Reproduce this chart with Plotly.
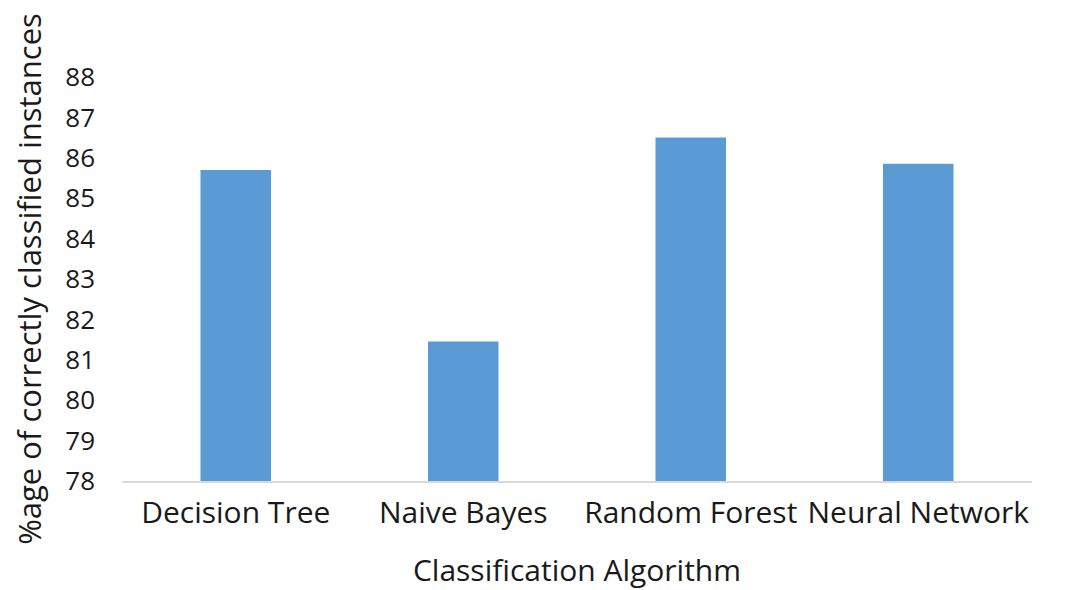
import plotly.graph_objects as go

categories = ["Decision Tree", "Naive Bayes", "Random Forest", "Neural Network"]
accuracy = [85.7, 81.45, 86.5, 85.85]
y_ticks = list(range(78, 89))

fig = go.Figure(
    go.Bar(x=categories, y=accuracy, marker=dict(color="#5B9BD5", line=dict(width=0)))
)

font_family = "Open Sans, Lato, sans-serif"
txt = "#1a1a1a"

fig.update_layout(
    width=1059,
    height=582,
    margin=dict(l=114, r=35, t=69, b=109, autoexpand=False),
    plot_bgcolor="white",
    paper_bgcolor="white",
    bargap=0.69,
    showlegend=False,
    font=dict(family=font_family, color=txt),
)
fig.update_xaxes(
    showline=True,
    linecolor="#D9D9D9",
    linewidth=1.5,
    showgrid=False,
    ticks="",
    ticklabelstandoff=4,
    tickfont=dict(size=30, color=txt),
    title=dict(text="Classification Algorithm", font=dict(size=30, color=txt), standoff=30),
)
fig.update_yaxes(
    range=[78, 88],
    tickvals=y_ticks,
    showgrid=False,
    showline=False,
    zeroline=False,
    ticks="",
    ticklabelstandoff=26,
    tickfont=dict(size=26, color=txt),
    title=dict(text="%age of correctly classified instances", font=dict(size=31, color=txt), standoff=22),
)

fig.write_html("out.html")
